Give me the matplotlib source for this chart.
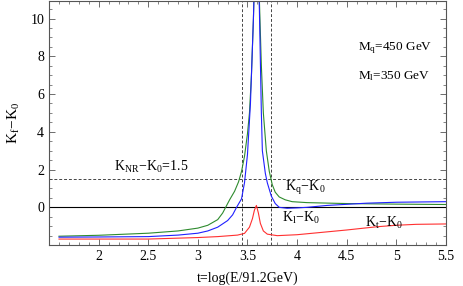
import matplotlib.pyplot as plt
from matplotlib.ticker import MultipleLocator

plt.rcParams['font.family'] = ['Liberation Serif', 'DejaVu Serif']
plt.rcParams['mathtext.fontset'] = 'custom'
plt.rcParams['mathtext.rm'] = 'Liberation Serif'
plt.rcParams['mathtext.it'] = 'Liberation Serif'

# green curve (K_q - K_0)
tq = [1.6, 2.0, 2.5, 2.8, 3.0, 3.1, 3.2, 3.25, 3.28, 3.32, 3.37, 3.41, 3.44, 3.47, 3.5,
      3.52, 3.54, 3.56, 3.575, 3.6, 3.62, 3.64, 3.66, 3.69, 3.72, 3.75, 3.78, 3.82,
      3.88, 3.95, 4.1, 4.5, 5.0, 5.5]
kq = [-1.53, -1.48, -1.37, -1.25, -1.1, -0.95, -0.65, -0.3, 0.0, 0.4, 0.85, 1.35, 1.9, 2.7, 3.9,
      5.0, 7.0, 10.0, 13.0, 14.0, 11.0, 7.5, 5.0, 3.0, 1.9, 1.2, 0.8, 0.55,
      0.4, 0.3, 0.25, 0.2, 0.17, 0.15]

# blue curve (K_l - K_0)
tl = [1.6, 2.0, 2.5, 2.8, 3.0, 3.1, 3.2, 3.3, 3.35, 3.39, 3.44, 3.47, 3.5, 3.53, 3.56,
      3.575, 3.6, 3.62, 3.64, 3.65, 3.68, 3.7, 3.74, 3.78, 3.82, 3.9, 4.0, 4.1, 4.3,
      4.7, 5.0, 5.5]
kl = [-1.58, -1.57, -1.55, -1.47, -1.37, -1.25, -1.05, -0.7, -0.4, 0.0, 0.45, 1.3, 2.8, 5.5, 10.0,
      13.0, 14.0, 10.5, 5.0, 3.0, 1.8, 1.3, 0.6, 0.2, 0.0, -0.05, -0.03, 0.0, 0.1,
      0.22, 0.27, 0.3]

# red curve (K_t - K_0)
tt = [1.6, 2.5, 3.0, 3.2, 3.4, 3.47, 3.52, 3.55, 3.57, 3.59, 3.61, 3.63, 3.66, 3.7, 3.8,
      4.0, 4.2, 4.5, 4.8, 5.0, 5.2, 5.5]
kt = [-1.68, -1.68, -1.6, -1.55, -1.47, -1.38, -1.05, -0.6, -0.15, 0.1, -0.3, -0.85, -1.25, -1.42, -1.5,
      -1.45, -1.35, -1.2, -1.03, -0.95, -0.9, -0.88]

t_thresholds = [3.44, 3.74]
k_nr = 1.5

fig = plt.figure(figsize=(4.63, 2.86), dpi=100)
ax = fig.add_axes([0.106, 0.143, 0.857, 0.855])

ax.axhline(0, color='black', lw=0.8)
ax.axhline(k_nr, color='#444444', lw=0.7, ls=(0, (3, 2)))
for tv in t_thresholds:
    ax.axvline(tv, color='#444444', lw=0.7, ls=(0, (3, 2)))

ax.plot(tq, kq, color='#2e8b2e', lw=0.8)
ax.plot(tl, kl, color='#2020ff', lw=0.8)
ax.plot(tt, kt, color='#ff3030', lw=0.8)

ax.set_xlim(1.5, 5.5)
ax.set_ylim(-2, 10.95)
ax.set_xticks([2, 2.5, 3, 3.5, 4, 4.5, 5, 5.5])
ax.set_xticklabels(['2', '2.5', '3', '3.5', '4', '4.5', '5', '5.5'])
ax.set_yticks([0, 2, 4, 6, 8, 10])
ax.xaxis.set_minor_locator(MultipleLocator(0.1))
ax.yaxis.set_minor_locator(MultipleLocator(0.5))
ax.tick_params(which='both', direction='in', top=True, right=True, labelsize=10, color='#555555')
ax.tick_params(which='major', length=4, width=0.6)
ax.tick_params(which='minor', length=2, width=0.5)
for s in ax.spines.values():
    s.set_color('#555555')
    s.set_linewidth(0.8)

ax.set_xlabel('t=log(E/91.2GeV)', fontsize=10, labelpad=6)
ax.set_ylabel(r'$\mathrm{K_f\!-\!K_0}$', fontsize=11, labelpad=6)

ax.text(2.15, 2.16, r'$\mathrm{K_{NR}\!-\!K_0}$=1.5', fontsize=10, va='center')
ax.text(3.88, 1.0, r'$\mathrm{K_q\!-\!K_0}$', fontsize=10, va='center')
ax.text(3.85, -0.58, r'$\mathrm{K_l\!-\!K_0}$', fontsize=10, va='center')
ax.text(4.68, -0.84, r'$\mathrm{K_t\!-\!K_0}$', fontsize=10, va='center')
ax.text(4.61, 8.42, r'$\mathrm{M_q}$=450 GeV', fontsize=9.5, va='center')
ax.text(4.61, 6.95, r'$\mathrm{M_l}$=350 GeV', fontsize=9.5, va='center')

plt.savefig('out.png', dpi=100)
